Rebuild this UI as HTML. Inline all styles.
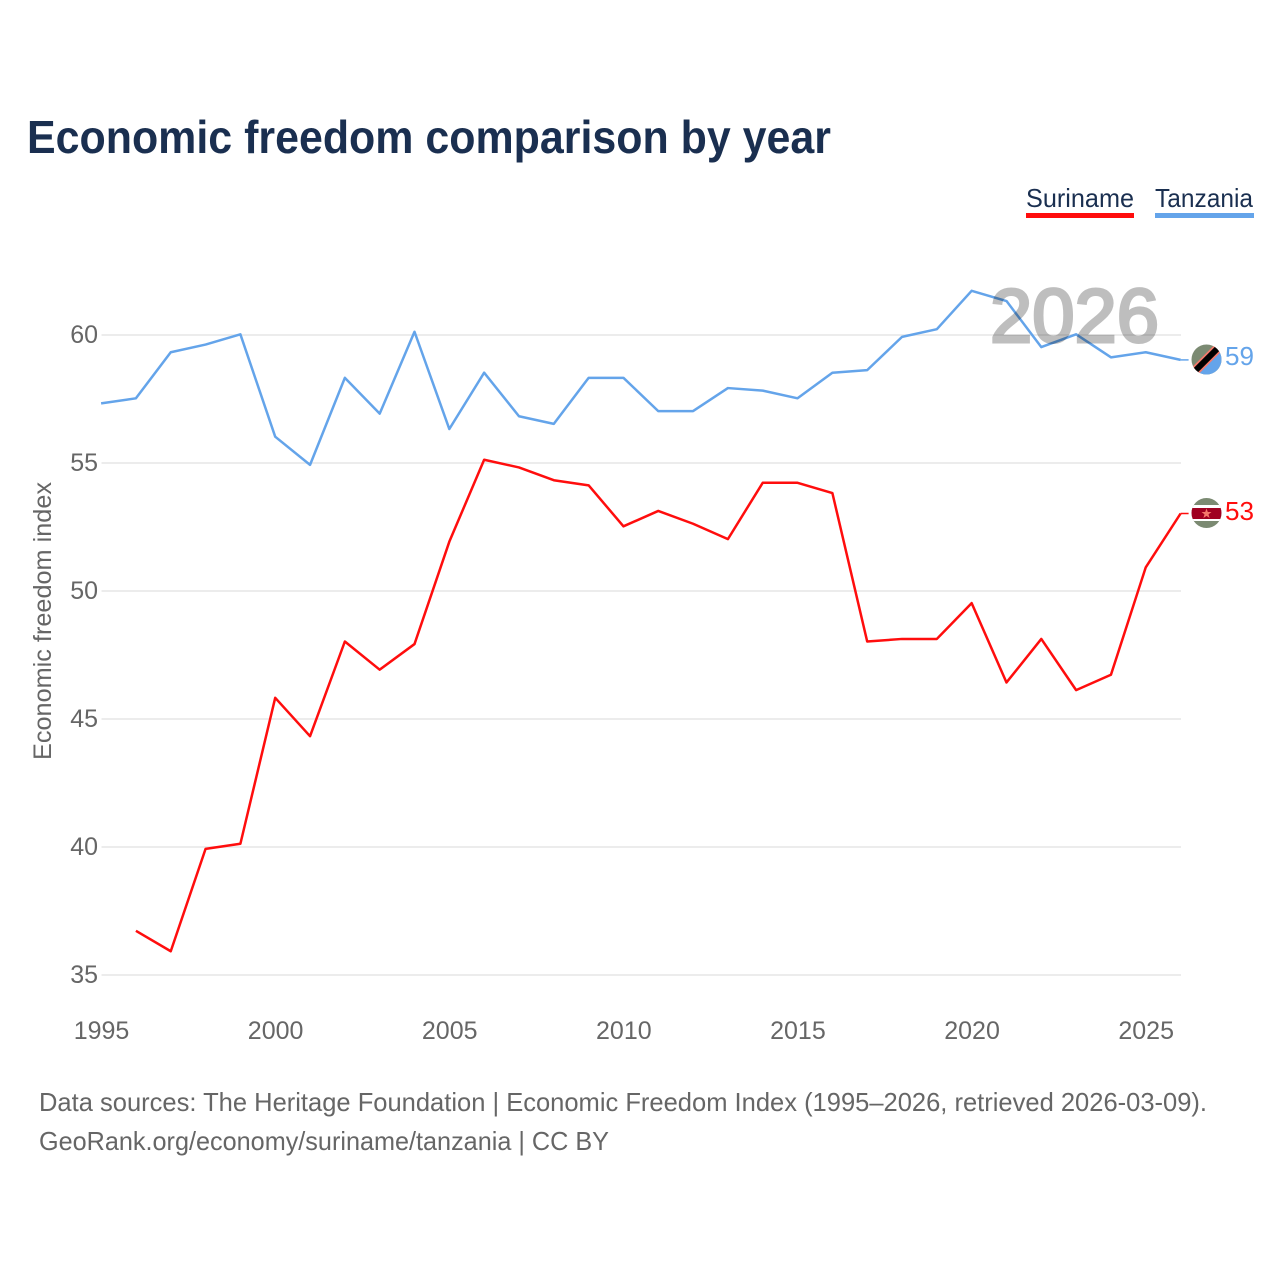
<!DOCTYPE html>
<html lang="en">
<head>
<meta charset="utf-8">
<title>Economic freedom comparison by year</title>
<style>
html,body{margin:0;padding:0;background:#fff;width:1280px;height:1280px;overflow:hidden}
svg{display:block;font-family:"Liberation Sans",sans-serif}
</style>
</head>
<body>
<svg id="chart" xmlns="http://www.w3.org/2000/svg" width="1280" height="1280" viewBox="0 0 1280 1280">
  <defs>
    <clipPath id="clip-tz"><circle cx="1206.5" cy="359.5" r="15"/></clipPath>
    <clipPath id="clip-sr"><circle cx="1206.5" cy="513" r="15"/></clipPath>
  </defs>
  <rect x="0" y="0" width="1280" height="1280" fill="#fff"/>
  <text x="27" y="153" font-size="46" font-weight="700" fill="#1a2f50" textLength="804" lengthAdjust="spacingAndGlyphs">Economic freedom comparison by year</text>

  <g>
    <g>
      <text x="1026" y="207" font-size="26" fill="#1a2f50" textLength="108" lengthAdjust="spacingAndGlyphs">Suriname</text>
      <rect x="1026" y="213" width="108" height="5" fill="#ff0d0d"/>
    </g>
    <g>
      <text x="1155" y="207" font-size="26" fill="#1a2f50" textLength="98" lengthAdjust="spacingAndGlyphs">Tanzania</text>
      <rect x="1155" y="213" width="99" height="5" fill="#64a4ea"/>
    </g>
  </g>

  <g id="grid"></g>
  <g id="y-ticks"></g>
  <g id="x-ticks"></g>

  <text transform="translate(51,760) rotate(-90)" x="0" y="0" font-size="25" fill="#666" textLength="278" lengthAdjust="spacingAndGlyphs">Economic freedom index</text>

  <g id="series"></g>

  <text id="year-watermark" x="990" y="342" font-size="76" font-weight="400" fill="#000" stroke="#000" stroke-width="3" opacity="0.25" textLength="169" lengthAdjust="spacingAndGlyphs">2026</text>

  <g>
    <g clip-path="url(#clip-tz)">
      <rect x="1190" y="343" width="33" height="33" fill="#7b8a72"/>
      <polygon points="1223,343 1223,376 1190,376" fill="#64a4ea"/>
      <line x1="1190" y1="376" x2="1223" y2="343" stroke="#f5796b" stroke-width="9.5"/>
      <line x1="1190" y1="376" x2="1223" y2="343" stroke="#000" stroke-width="6"/>
    </g>
  </g>
  <g>
    <g clip-path="url(#clip-sr)">
      <rect x="1190" y="497" width="33" height="32" fill="#7b8a72"/>
      <rect x="1190" y="505" width="33" height="16" fill="#fff"/>
      <rect x="1190" y="508" width="33" height="11" fill="#a00020"/>
      <polygon points="1206.5,508.5 1207.8,512 1211.5,512 1208.5,514.4 1209.6,518 1206.5,515.9 1203.4,518 1204.5,514.4 1201.5,512 1205.2,512" fill="#f5796b"/>
    </g>
  </g>

  <text id="end-label-tz" x="1225" y="365" font-size="26" fill="#64a4ea" textLength="29" lengthAdjust="spacingAndGlyphs"></text>
  <text id="end-label-sr" x="1225" y="520" font-size="26" fill="#ff0d0d" textLength="29" lengthAdjust="spacingAndGlyphs"></text>

  <g>
    <text x="39" y="1111" font-size="26" fill="#666" textLength="1168" lengthAdjust="spacingAndGlyphs">Data sources: The Heritage Foundation | Economic Freedom Index (1995–2026, retrieved 2026-03-09).</text>
    <text x="39" y="1150" font-size="26" fill="#666" textLength="570" lengthAdjust="spacingAndGlyphs">GeoRank.org/economy/suriname/tanzania | CC BY</text>
  </g>
</svg>
<script>
const years = [1995,1996,1997,1998,1999,2000,2001,2002,2003,2004,2005,2006,2007,2008,2009,2010,2011,2012,2013,2014,2015,2016,2017,2018,2019,2020,2021,2022,2023,2024,2025,2026];
const tanzania = [57.3,57.5,59.3,59.6,60.0,56.0,54.9,58.3,56.9,60.1,56.3,58.5,56.8,56.5,58.3,58.3,57.0,57.0,57.9,57.8,57.5,58.5,58.6,59.9,60.2,61.7,61.3,59.5,60.0,59.1,59.3,59.0];
const suriname = [null,36.7,35.9,39.9,40.1,45.8,44.3,48.0,46.9,47.9,51.9,55.1,54.8,54.3,54.1,52.5,53.1,52.6,52.0,54.2,54.2,53.8,48.0,48.1,48.1,49.5,46.4,48.1,46.1,46.7,50.9,53.0];
const yTickValues = [35,40,45,50,55,60];
const xTickValues = [1995,2000,2005,2010,2015,2020,2025];

const SVG_NS = 'http://www.w3.org/2000/svg';
function xScale(year){ return 101.5 + (year - 1995) * (1181 - 101.5) / 31; }
function yScale(v){ return 335 + (60 - v) * 25.6; }
function make(tag, attrs, parent){
  const el = document.createElementNS(SVG_NS, tag);
  for (const k in attrs) el.setAttribute(k, attrs[k]);
  parent.appendChild(el);
  return el;
}

const gridG = document.getElementById('grid');
const yG = document.getElementById('y-ticks');
yTickValues.forEach(function(v){
  const line = make('line', {x1:101.5, x2:1181, y1:yScale(v), y2:yScale(v), stroke:'#ececec', 'stroke-width':2}, gridG);
  
  
  const t = make('text', {x:98, y:yScale(v) + 8, 'text-anchor':'end', 'font-size':25, fill:'#666'}, yG);
  
  
  t.textContent = v;
});

const xG = document.getElementById('x-ticks');
xTickValues.forEach(function(y){
  const t = make('text', {x:xScale(y), y:1039, 'text-anchor':'middle', 'font-size':25, fill:'#666'}, xG);
  
  
  t.textContent = y;
});

function drawSeries(values, color, name){
  const g = document.getElementById('series');
  let d = '';
  let lastX = 0, lastY = 0;
  values.forEach(function(v, i){
    if (v === null) return;
    lastX = xScale(years[i]) - 0.4;
    lastY = yScale(v) - 0.7;
    d += (d ? 'L' : 'M') + lastX.toFixed(2) + ' ' + lastY.toFixed(2);
  });
  const path = make('path', {d:d, fill:'none', stroke:color, 'stroke-width':2.5, 'stroke-linejoin':'round'}, g);
  
  
  const conn = make('line', {x1:lastX, x2:lastX + 8, y1:lastY, y2:lastY, stroke:color, 'stroke-width':1.5}, g);
  
  
}
drawSeries(tanzania, '#64a4ea', 'tanzania');
drawSeries(suriname, '#ff0d0d', 'suriname');

document.getElementById('end-label-tz').textContent = Math.round(tanzania[tanzania.length - 1]);
document.getElementById('end-label-sr').textContent = Math.round(suriname[suriname.length - 1]);
document.getElementById('year-watermark').textContent = years[years.length - 1];
</script>
</body>
</html>
